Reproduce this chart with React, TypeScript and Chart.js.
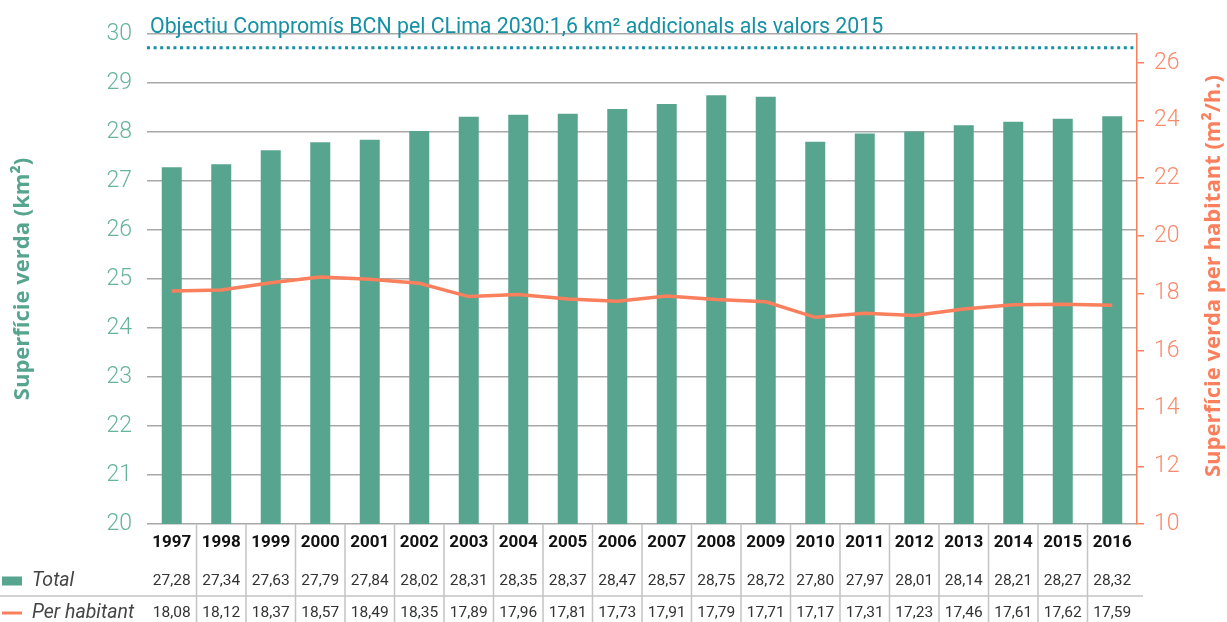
import React, { useEffect, useRef } from "react";
import { Chart, registerables } from "chart.js";

Chart.register(...registerables);

// ---------- DATA ----------
const years = [
  "1997", "1998", "1999", "2000", "2001", "2002", "2003", "2004", "2005", "2006",
  "2007", "2008", "2009", "2010", "2011", "2012", "2013", "2014", "2015", "2016",
];
const totalKm2 = [
  27.28, 27.34, 27.63, 27.79, 27.84, 28.02, 28.31, 28.35, 28.37, 28.47,
  28.57, 28.75, 28.72, 27.8, 27.97, 28.01, 28.14, 28.21, 28.27, 28.32,
];
const perHabitant = [
  18.08, 18.12, 18.37, 18.57, 18.49, 18.35, 17.89, 17.96, 17.81, 17.73,
  17.91, 17.79, 17.71, 17.17, 17.31, 17.23, 17.46, 17.61, 17.62, 17.59,
];
const targetKm2 = 29.72;
const targetLabel =
  "Objectiu Compromís BCN pel CLima 2030:1,6 km² addicionals als valors 2015";
const leftTitle = "Superfície verda (km²)";
const rightTitle = "Superfície verda per habitant (m²/h.)";
const legendTotal = "Total";
const legendPerHab = "Per habitant";
const leftMin = 20;
const leftMax = 30;
const rightMin = 10;
const rightMax = 27;

// ---------- STYLE ----------
const GREEN = "#57a58f";
const GREEN_LIGHT = "#66b49b";
const ORANGE = "#fa7f5d";
const ORANGE_LIGHT = "#f98a6b";
const TEAL = "#1690a5";
const GRID = "#a8a8a8";
const TABLE_LINE = "#c4c4c4";

const fmt = (v: number) => v.toFixed(2).replace(".", ",");

const overlayPlugin = {
  id: "overlay",
  afterDraw(chart: any) {
    const ctx = chart.ctx as CanvasRenderingContext2D;
    const { left, right, top, bottom } = chart.chartArea;
    const xs = chart.scales.x;
    const ys = chart.scales.y;
    const W = chart.width;
    const H = chart.height;
    ctx.save();

    // target dotted line
    const ty = ys.getPixelForValue(targetKm2);
    ctx.strokeStyle = TEAL;
    ctx.lineWidth = 3;
    ctx.setLineDash([3, 3.6]);
    ctx.beginPath();
    ctx.moveTo(left, ty);
    ctx.lineTo(right, ty);
    ctx.stroke();
    ctx.setLineDash([]);

    // target label
    ctx.font = "400 21.3px Roboto";
    ctx.fillStyle = TEAL;
    ctx.textAlign = "left";
    ctx.textBaseline = "alphabetic";
    ctx.fillText(targetLabel, left + 3, ys.getPixelForValue(leftMax) - 1);

    // axis titles
    const midY = (top + bottom) / 2;
    ctx.font = "700 22px 'Open Sans'";
    ctx.textAlign = "center";
    ctx.textBaseline = "middle";
    ctx.fillStyle = GREEN;
    ctx.save();
    ctx.translate(23, midY);
    ctx.rotate(-Math.PI / 2);
    ctx.fillText(leftTitle, 0, 0);
    ctx.restore();
    ctx.fillStyle = ORANGE;
    ctx.save();
    ctx.translate(W - 13, midY - 3);
    ctx.rotate(-Math.PI / 2);
    ctx.fillText(rightTitle, 0, 0);
    ctx.restore();

    // table grid
    const n = years.length;
    const half = (xs.getPixelForValue(1) - xs.getPixelForValue(0)) / 2;
    ctx.strokeStyle = TABLE_LINE;
    ctx.lineWidth = 1.5;
    ctx.beginPath();
    for (let i = 1; i < n; i++) {
      const bx = xs.getPixelForValue(i) - half;
      ctx.moveTo(bx, bottom);
      ctx.lineTo(bx, H);
    }
    const rowLineY = bottom + 72;
    ctx.moveTo(0, rowLineY);
    ctx.lineTo(right + 6, rowLineY);
    ctx.stroke();

    // table values
    const row1 = bottom + 57;
    const row2 = bottom + 89;
    ctx.font = "400 15.5px Roboto";
    ctx.fillStyle = "#333333";
    ctx.textAlign = "center";
    ctx.textBaseline = "middle";
    for (let i = 0; i < n; i++) {
      const cx = xs.getPixelForValue(i);
      ctx.fillText(fmt(totalKm2[i]), cx, row1);
      ctx.fillText(fmt(perHabitant[i]), cx, row2);
    }

    // legend keys
    ctx.fillStyle = GREEN;
    ctx.fillRect(2, row1 - 4.5, 20, 9);
    ctx.strokeStyle = ORANGE;
    ctx.lineWidth = 3;
    ctx.beginPath();
    ctx.moveTo(2, row2);
    ctx.lineTo(22, row2);
    ctx.stroke();
    ctx.font = "italic 400 19.5px Roboto";
    ctx.fillStyle = "#444444";
    ctx.textAlign = "left";
    ctx.fillText(legendTotal, 32, row1);
    ctx.fillText(legendPerHab, 32, row2);

    ctx.restore();
  },
};

export default function App() {
  const ref = useRef<HTMLCanvasElement | null>(null);

  useEffect(() => {
    if (!ref.current) return;
    const chart = new Chart(ref.current, {
      type: "bar",
      data: {
        labels: years,
        datasets: [
          {
            type: "line",
            label: legendPerHab,
            data: perHabitant,
            yAxisID: "y1",
            borderColor: ORANGE,
            backgroundColor: ORANGE,
            borderWidth: 3.5,
            pointRadius: 0,
            tension: 0,
            order: 0,
          } as any,
          {
            type: "bar",
            label: legendTotal,
            data: totalKm2,
            yAxisID: "y",
            backgroundColor: GREEN,
            borderWidth: 0,
            barPercentage: 0.404,
            categoryPercentage: 1,
            order: 1,
          },
        ],
      },
      options: {
        responsive: false,
        animation: false,
        devicePixelRatio: 1,
        layout: { padding: { top: 34, left: 0, right: 0, bottom: 0 } },
        plugins: {
          legend: { display: false },
          tooltip: { enabled: false },
          title: { display: false },
        },
        scales: {
          x: {
            position: "bottom",
            grid: { display: false },
            border: { display: false },
            ticks: {
              color: "#111111",
              font: { family: "Roboto", size: 17, weight: "bold" },
              padding: 1,
              maxRotation: 0,
              autoSkip: false,
            },
            afterFit(scale: any) {
              scale.height = 98;
            },
          },
          y: {
            position: "left",
            min: leftMin,
            max: leftMax,
            ticks: {
              stepSize: 1,
              color: GREEN_LIGHT,
              font: { family: "Roboto", size: 23, weight: "300" },
              padding: 15,
            },
            grid: {
              color: GRID,
              lineWidth: 1.5,
              drawTicks: false,
            },
            border: { display: false },
            afterFit(scale: any) {
              scale.width = 147;
            },
          },
          y1: {
            position: "right",
            min: rightMin,
            max: rightMax,
            ticks: {
              stepSize: 2,
              includeBounds: false,
              color: ORANGE_LIGHT,
              font: { family: "Roboto", size: 23, weight: "300" },
              padding: 10,
            },
            grid: {
              drawOnChartArea: false,
              drawTicks: true,
              tickLength: 7,
              color: ORANGE,
              lineWidth: 1.5,
            },
            border: { display: true, color: ORANGE, width: 1.5 },
            afterFit(scale: any) {
              scale.width = 90;
            },
          },
        },
      },
      plugins: [overlayPlugin],
    });
    return () => chart.destroy();
  }, []);

  return (
    <div style={{ position: "fixed", left: 0, top: 0, width: 1227, height: 622, background: "#fff" }}>
      <canvas ref={ref} width={1227} height={622} style={{ display: "block" }} />
    </div>
  );
}
